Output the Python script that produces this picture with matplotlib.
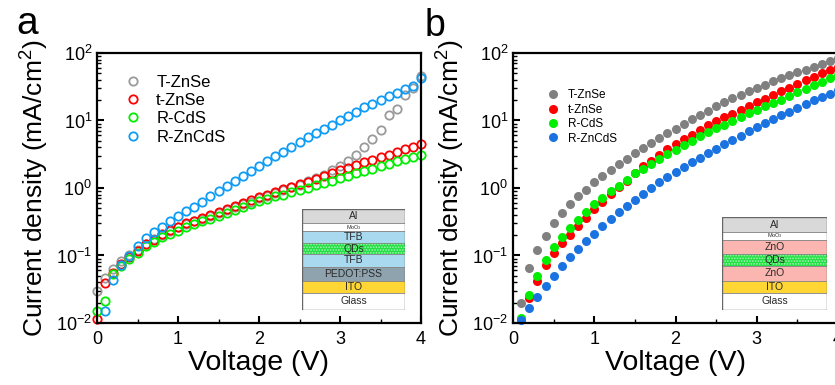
import numpy as np
import matplotlib
matplotlib.use('Agg')
from matplotlib import pyplot as plt
from matplotlib.ticker import MultipleLocator, LogLocator, NullFormatter

plt.rcParams['font.family'] = ['Liberation Sans', 'DejaVu Sans']
plt.rcParams['mathtext.default'] = 'regular'
plt.rcParams['hatch.linewidth'] = 0.8

labels = ['T-ZnSe', 't-ZnSe', 'R-CdS', 'R-ZnCdS']

# panel a: 0 ~ 4 V, 0.1 V step
volt_a = np.round(np.arange(0, 4.01, 0.1), 1)
t_znse_a = [0.030, 0.047, 0.064, 0.083, 0.10, 0.12, 0.15, 0.175, 0.20, 0.23,
            0.26, 0.29, 0.32, 0.35, 0.39, 0.43, 0.47, 0.52, 0.57, 0.63,
            0.70, 0.77, 0.85, 0.94, 1.02, 1.12, 1.25, 1.40, 1.58, 1.85,
            2.1, 2.5, 3.1, 4.0, 5.4, 7.3, 12.0, 14.8, 23.8, 30.0, 45.0]
s_znse_a = [0.0116, 0.039, 0.055, 0.075, 0.095, 0.118, 0.148, 0.172, 0.205, 0.235,
            0.265, 0.30, 0.33, 0.365, 0.40, 0.44, 0.49, 0.54, 0.59, 0.66,
            0.73, 0.80, 0.88, 0.97, 1.04, 1.13, 1.24, 1.36, 1.50, 1.66,
            1.85, 2.0, 2.2, 2.4, 2.6, 2.85, 3.1, 3.4, 3.75, 4.1, 4.5]
r_cds_a = [0.015, 0.021, 0.053, 0.070, 0.088, 0.108, 0.140, 0.160, 0.185, 0.205,
           0.23, 0.26, 0.29, 0.32, 0.35, 0.39, 0.43, 0.47, 0.52, 0.58,
           0.64, 0.69, 0.75, 0.80, 0.86, 0.93, 1.01, 1.10, 1.19, 1.29,
           1.40, 1.52, 1.65, 1.79, 1.94, 2.1, 2.28, 2.47, 2.67, 2.9, 3.1]
r_zncds_a = [np.nan, 0.0152, 0.043, 0.073, 0.097, 0.137, 0.18, 0.22, 0.26, 0.32,
             0.38, 0.45, 0.53, 0.63, 0.75, 0.89, 1.06, 1.26, 1.49, 1.77,
             2.1, 2.48, 2.94, 3.45, 4.1, 4.8, 5.6, 6.5, 7.5, 8.7,
             10.0, 11.8, 13.5, 15.7, 17.7, 20.4, 22.8, 25.5, 29.3, 32.8, 42.0]

# panel b: 0.1 ~ 4 V
volt_b = np.round(np.arange(0.1, 4.01, 0.1), 1)
t_znse_b = [0.0198, 0.065, 0.122, 0.197, 0.30, 0.42, 0.57, 0.75, 0.94, 1.21,
            1.49, 1.87, 2.27, 2.7, 3.27, 3.9, 4.6, 5.5, 6.5, 7.6,
            8.9, 10.5, 11.9, 14.0, 16.2, 18.6, 21.3, 24.1, 27.3, 30.3,
            34, 38, 42, 46.7, 51.7, 56.6, 63, 69.5, 77, 84]
s_znse_b = [0.0115, 0.0235, 0.042, 0.0715, 0.109, 0.151, 0.204, 0.277, 0.36, 0.49,
            0.63, 0.82, 1.02, 1.28, 1.67, 2.1, 2.48, 3.1, 3.83, 4.5,
            5.3, 6.2, 7.3, 8.5, 9.7, 11.1, 12.6, 14.3, 16.2, 18.6,
            20.8, 23.6, 27, 30.6, 34.7, 39.3, 44, 50, 56, 61]
r_cds_b = [0.0118, 0.026, 0.049, 0.087, 0.134, 0.19, 0.255, 0.34, 0.44, 0.58,
           0.71, 0.89, 1.08, 1.32, 1.65, 1.93, 2.29, 2.69, 3.19, 3.7,
           4.3, 5.0, 5.8, 6.8, 7.7, 8.7, 9.8, 11.3, 12.8, 14.5,
           16.2, 18.2, 20.4, 23.3, 26.1, 29.6, 33.2, 37.6, 42, 47.8]
r_zncds_b = [0.011, 0.0167, 0.024, 0.035, 0.05, 0.069, 0.094, 0.125, 0.162, 0.21,
             0.27, 0.347, 0.436, 0.55, 0.67, 0.82, 1.0, 1.21, 1.44, 1.73,
             2.05, 2.43, 2.81, 3.3, 3.83, 4.48, 5.2, 5.96, 6.9, 7.9,
             9.2, 10.5, 11.9, 13.5, 15.3, 17.5, 19.9, 22.3, 25, 28.6]

colors_a = ['#9a9a9a', '#ff0000', '#00ee00', '#0f9cf5']
colors_b = ['#808080', '#ff0000', '#00ee00', '#1a73e0']

# device stacks (top -> bottom)
stack_a = [('Al', '#d9d9d9', 14.3), ('MoO$_3$', '#ffffff', 7.7), ('TFB', '#a8d9ee', 12.3),
           ('QDs', '#22e044', 10.7), ('TFB', '#a8d9ee', 12.7), ('PEDOT:PSS', '#8ea3ad', 14.0),
           ('ITO', '#ffd633', 12.0), ('Glass', '#ffffff', 17.3)]
stack_b = [('Al', '#d9d9d9', 15.0), ('MoO$_3$', '#ffffff', 7.7), ('ZnO', '#fbb6b1', 14.0),
           ('QDs', '#22e044', 12.0), ('ZnO', '#fbb6b1', 14.7), ('ITO', '#ffd633', 12.0),
           ('Glass', '#ffffff', 17.3)]

W, H = 835, 385
fig = plt.figure(figsize=(W / 100, H / 100), dpi=100)


def px(x0, y0, x1, y1):
    return [x0 / W, 1 - y1 / H, (x1 - x0) / W, (y1 - y0) / H]


def setup(ax):
    ax.set_yscale('log')
    ax.set_xlim(0, 4)
    ax.set_ylim(0.01, 100)
    ax.xaxis.set_major_locator(MultipleLocator(1))
    ax.xaxis.set_minor_locator(MultipleLocator(0.5))
    ax.yaxis.set_major_locator(LogLocator(base=10, numticks=10))
    ax.yaxis.set_minor_locator(LogLocator(base=10, subs=np.arange(2, 10), numticks=10))
    ax.yaxis.set_minor_formatter(NullFormatter())
    ax.tick_params(which='both', direction='in', top=False, right=False, labelsize=13)
    ax.tick_params(which='major', length=5, width=1.5)
    ax.tick_params(which='minor', length=3, width=1)
    ax.tick_params(axis='x', pad=6)
    for s in ax.spines.values():
        s.set_linewidth(1.6)
    ax.set_xlabel('Voltage (V)', fontsize=20.5, labelpad=1)
    ax.set_ylabel('Current density (mA/cm$^2$)', fontsize=19, labelpad=4)


def draw_stack(ax, stack):
    total = sum(t for _, _, t in stack)
    top = total
    for name, col, t in stack:
        bottom = top - t
        if name == 'QDs':
            ax.bar(0, t, bottom=bottom, width=1, color=col, edgecolor='#a8f5b4',
                   hatch='......', linewidth=0)
            ax.bar(0, t, bottom=bottom, width=1, color='none', edgecolor='#888888', linewidth=0.6)
        else:
            ax.bar(0, t, bottom=bottom, width=1, color=col, edgecolor='#888888', linewidth=0.6)
        fs = 4 if 'MoO' in name else 7.5
        ax.text(0, bottom + t / 2, name, ha='center', va='center', fontsize=fs, color='#2a2a2a')
        top = bottom
    ax.set_xlim(-0.5, 0.5)
    ax.set_ylim(0, total)
    ax.axis('off')
    ax.add_patch(plt.Rectangle((-0.5, 0), 1, total, fill=False, edgecolor='#666666', linewidth=1))


# panel a
ax1 = fig.add_axes(px(97, 53, 421, 323))
setup(ax1)
for ys, c, lb in zip([t_znse_a, s_znse_a, r_cds_a, r_zncds_a], colors_a, labels):
    ax1.plot(volt_a, ys, 'o', ms=6, mfc='none', mec=c, mew=1.3, label=lb, clip_on=False)
ax1.legend(loc='upper left', bbox_to_anchor=(0.085, 0.92), frameon=False, fontsize=12,
           handlelength=1.0, handletextpad=0.9, labelspacing=0.2, borderpad=0, borderaxespad=0)

# panel b
ax2 = fig.add_axes(px(513, 53, 838, 323))
setup(ax2)
for ys, c, lb in zip([t_znse_b, s_znse_b, r_cds_b, r_zncds_b], colors_b, labels):
    ax2.plot(volt_b, ys, 'o', ms=6.5, mfc=c, mec=c, mew=0, label=lb, clip_on=False)
ax2.legend(loc='upper left', bbox_to_anchor=(0.106, 0.865), frameon=False, fontsize=8.5,
           handlelength=1.0, handletextpad=0.72, labelspacing=0.2, borderpad=0, borderaxespad=0)

ins1 = fig.add_axes(px(302, 209, 405, 310))
draw_stack(ins1, stack_a)
ins2 = fig.add_axes(px(722, 217, 827, 310))
draw_stack(ins2, stack_b)

fig.text(16 / W, 1 - 34 / H, 'a', fontsize=28, va='baseline')
fig.text(425 / W, 1 - 36 / H, 'b', fontsize=27, va='baseline')

fig.savefig('out.png', dpi=100)
